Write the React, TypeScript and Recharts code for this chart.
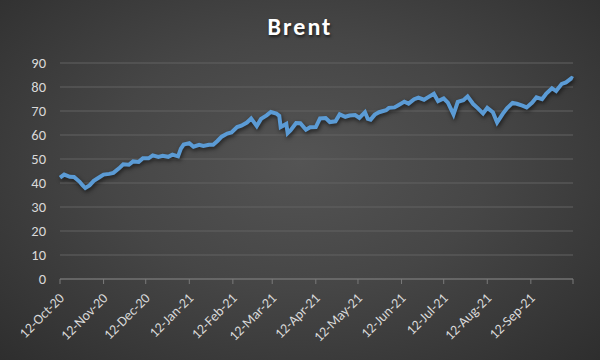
import { LineChart, Line, XAxis, YAxis, CartesianGrid } from "recharts";

const dates = [
  "2020-10-12", "2020-10-15", "2020-10-19", "2020-10-22", "2020-10-26", "2020-10-28",
  "2020-10-30", "2020-11-02", "2020-11-05", "2020-11-09", "2020-11-12", "2020-11-16",
  "2020-11-19", "2020-11-23", "2020-11-26", "2020-11-30", "2020-12-03", "2020-12-07",
  "2020-12-10", "2020-12-14", "2020-12-17", "2020-12-21", "2020-12-24", "2020-12-28",
  "2020-12-31", "2021-01-04", "2021-01-06", "2021-01-08", "2021-01-12", "2021-01-15",
  "2021-01-19", "2021-01-22", "2021-01-26", "2021-01-29", "2021-02-01", "2021-02-04",
  "2021-02-08", "2021-02-11", "2021-02-15", "2021-02-18", "2021-02-22", "2021-02-25",
  "2021-03-01", "2021-03-04", "2021-03-08", "2021-03-11", "2021-03-15", "2021-03-17",
  "2021-03-18", "2021-03-22", "2021-03-23", "2021-03-25", "2021-03-29", "2021-04-01",
  "2021-04-05", "2021-04-08", "2021-04-12", "2021-04-15", "2021-04-19", "2021-04-22",
  "2021-04-26", "2021-04-29", "2021-05-03", "2021-05-06", "2021-05-10", "2021-05-13",
  "2021-05-17", "2021-05-19", "2021-05-21", "2021-05-24", "2021-05-27", "2021-06-01",
  "2021-06-03", "2021-06-07", "2021-06-10", "2021-06-14", "2021-06-17", "2021-06-21",
  "2021-06-24", "2021-06-28", "2021-07-01", "2021-07-05", "2021-07-08", "2021-07-12",
  "2021-07-15", "2021-07-19", "2021-07-22", "2021-07-26", "2021-07-29", "2021-08-02",
  "2021-08-05", "2021-08-09", "2021-08-12", "2021-08-16", "2021-08-19", "2021-08-23",
  "2021-08-26", "2021-08-30", "2021-09-02", "2021-09-06", "2021-09-09", "2021-09-13",
  "2021-09-16", "2021-09-20", "2021-09-23", "2021-09-27", "2021-09-30", "2021-10-04",
  "2021-10-07", "2021-10-11", "2021-10-12",
];

const prices = [
  42.2, 43.5, 42.6, 42.5, 40.5, 39.1,
  37.9, 39.0, 40.9, 42.4, 43.5, 43.8,
  44.2, 46.1, 47.8, 47.6, 49.0, 48.8,
  50.3, 50.3, 51.5, 50.9, 51.3, 50.9,
  51.8, 51.1, 54.3, 56.0, 56.6, 55.1,
  55.9, 55.4, 55.9, 55.9, 57.5, 59.3,
  60.6, 61.1, 63.3, 63.9, 65.2, 66.9,
  63.7, 66.7, 68.2, 69.6, 68.9, 68.0,
  63.3, 64.6, 60.8, 61.9, 65.0, 64.9,
  62.2, 63.2, 63.3, 66.9, 67.1, 65.4,
  65.7, 68.6, 67.6, 68.1, 68.3, 67.1,
  69.5, 66.7, 66.4, 68.5, 69.5, 70.3,
  71.3, 71.5, 72.5, 73.9, 73.1, 74.9,
  75.6, 74.7, 75.8, 77.2, 74.1, 75.2,
  73.5, 68.6, 73.8, 74.5, 76.1, 72.9,
  71.3, 69.0, 71.3, 69.5, 65.2, 68.8,
  71.1, 73.4, 73.0, 72.2, 71.5, 73.5,
  75.7, 74.9, 77.3, 79.5, 78.3, 81.3,
  81.9, 83.7, 83.4,
];

const tickDates = [
  "2020-10-12", "2020-11-12", "2020-12-12", "2021-01-12", "2021-02-12", "2021-03-12",
  "2021-04-12", "2021-05-12", "2021-06-12", "2021-07-12", "2021-08-12", "2021-09-12",
  "2021-10-12",
];
const tickLabels = [
  "12-Oct-20", "12-Nov-20", "12-Dec-20", "12-Jan-21", "12-Feb-21", "12-Mar-21",
  "12-Apr-21", "12-May-21", "12-Jun-21", "12-Jul-21", "12-Aug-21", "12-Sep-21", "",
];
const yTicks = [0, 10, 20, 30, 40, 50, 60, 70, 80, 90];

const DAY = 24 * 3600 * 1000;
const start = Date.parse(dates[0]);
const toDay = (d: string) => Math.round((Date.parse(d) - start) / DAY);

const data = dates.map((d, i) => ({ t: toDay(d), price: prices[i] }));
const xTicks = tickDates.map(toDay);

const font = "Calibri, Carlito, 'Open Sans', sans-serif";

const DateTick = (props: any) => {
  const { x, y, payload } = props;
  const label = tickLabels[xTicks.indexOf(payload.value)] ?? "";
  return (
    <text
      x={x + 5}
      y={y + 13}
      transform={`rotate(-45, ${x + 5}, ${y + 13})`}
      textAnchor="end"
      fill="#d9d9d9"
      fontSize={14}
      fontFamily={font}
    >
      {label}
    </text>
  );
};

export default function App() {
  return (
    <div
      style={{
        position: "absolute",
        left: 0,
        top: 0,
        width: 600,
        height: 360,
        background:
          "radial-gradient(ellipse at 50% 45%, #545454 0%, #464646 45%, #2e2e2e 100%)",
      }}
    >
      <style>{".brent-line path{filter:drop-shadow(1px 2px 2px rgba(0,0,0,0.6));}"}</style>
      <div
        style={{
          position: "absolute",
          top: 12,
          width: 600,
          textAlign: "center",
          color: "#ffffff",
          fontFamily: font,
          fontWeight: 700,
          fontSize: 24,
          letterSpacing: 2,
          textShadow: "1px 2px 3px rgba(0,0,0,0.6)",
        }}
      >
        Brent
      </div>
      <LineChart
        width={600}
        height={360}
        data={data}
        margin={{ top: 63, right: 27, left: 0, bottom: 6 }}
      >
        <CartesianGrid vertical={false} stroke="#626262" strokeWidth={1} />
        <XAxis
          dataKey="t"
          type="number"
          domain={[0, 365]}
          ticks={xTicks}
          interval={0}
          tick={<DateTick />}
          height={75}
          axisLine={{ stroke: "#7a7a7a" }}
          tickLine={{ stroke: "#7a7a7a" }}
          tickSize={5}
        />
        <YAxis
          domain={[0, 90]}
          ticks={yTicks}
          width={60}
          axisLine={false}
          tickLine={false}
          tickSize={0}
          tickMargin={14}
          tick={{ fill: "#d9d9d9", fontSize: 14.5, fontFamily: font }}
        />
        <Line
          className="brent-line"
          dataKey="price"
          type="linear"
          stroke="#5b9bd5"
          strokeWidth={4}
          dot={false}
          isAnimationActive={false}
        />
      </LineChart>
    </div>
  );
}
